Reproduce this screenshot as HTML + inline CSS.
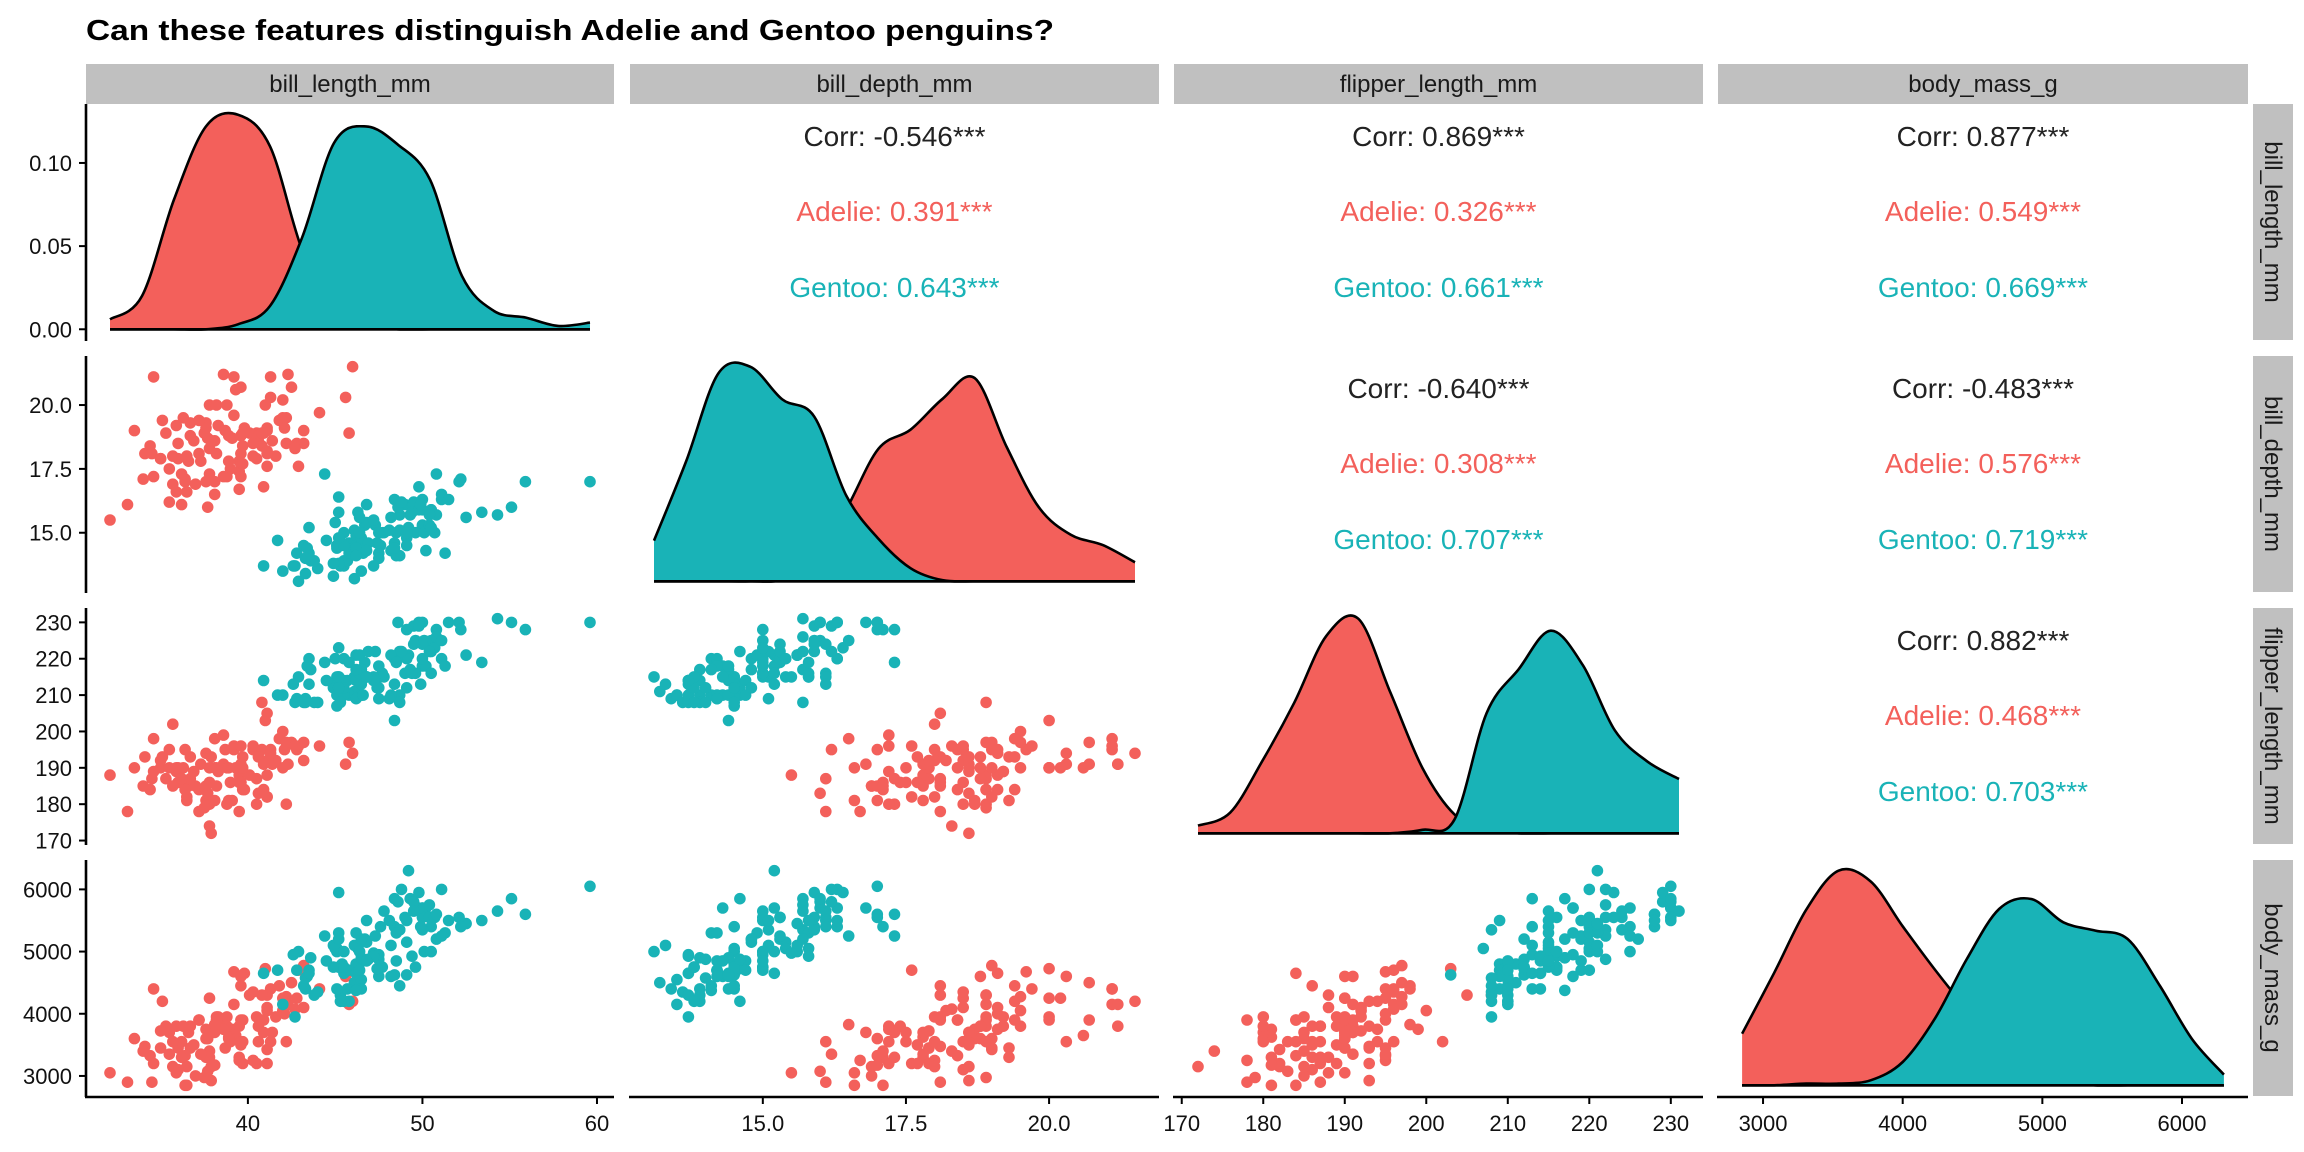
<!DOCTYPE html>
<html><head><meta charset="utf-8"><style>
html,body{margin:0;padding:0;background:#fff;}
svg{display:block;}
.tick{font-family:"Liberation Sans Narrow","Liberation Sans",sans-serif;font-size:22px;fill:#111;}
.strip{font-family:"Liberation Sans Narrow","Liberation Sans",sans-serif;font-size:24px;fill:#1a1a1a;}
.corr{font-family:"Liberation Sans",sans-serif;font-size:28px;}
</style></head><body>
<svg id="chart" width="2304" height="1152" viewBox="0 0 2304 1152" xmlns="http://www.w3.org/2000/svg">
<text x="86" y="40" font-family="Liberation Sans, sans-serif" font-weight="bold" font-size="29" textLength="968" lengthAdjust="spacingAndGlyphs" fill="#000">Can these features distinguish Adelie and Gentoo penguins?</text>
</svg>
<script>
// ---- data ----
const variables = ["bill_length_mm","bill_depth_mm","flipper_length_mm","body_mass_g"];
const adelieBillLength = [39.1,39.5,40.3,36.7,39.3,38.9,39.2,34.1,42,37.8,37.8,41.1,38.6,34.6,36.6,38.7,42.5,34.4,46,37.8,37.7,35.9,38.2,38.8,35.3,40.6,40.5,37.9,40.5,39.5,37.2,39.5,40.9,36.4,39.2,38.8,42.2,37.6,39.8,36.5,40.8,36,44.1,37,39.6,41.1,37.5,36,42.3,39.6,40.1,35,42,34.5,41.4,39,40.6,36.5,37.6,35.7,41.3,37.6,41.1,36.4,41.6,35.5,41.1,35.9,41.8,33.5,39.7,39.6,45.8,35.5,42.8,40.9,37.2,36.2,42.1,34.6,42.9,36.7,35.1,37.3,41.3,36.3,36.9,38.3,38.9,35.7,41.1,34,39.6,36.2,40.8,38.1,40.3,33.1,43.2,35,41,37.7,37.8,37.9,39.7,38.6,38.2,38.1,43.2,38.1,45.6,39.7,42.2,39.6,42.7,32.1];
const adelieBillDepth = [18.7,17.4,18,19.3,20.6,17.8,19.6,18.1,20.2,17.1,17.3,17.6,21.2,21.1,17.8,19,20.7,18.4,21.5,18.3,18.7,19.2,18.1,17.2,18.9,18.6,17.9,18.6,18.9,16.7,18.1,17.8,18.9,17,21.1,20,18.5,19.3,19.1,18,18.4,18.5,19.7,16.9,18.8,19,18.9,17.9,21.2,17.7,18.9,17.9,19.5,18.1,18.6,17.5,18.8,16.6,19.1,16.9,21.1,17,18.2,17.1,18,16.2,19.1,16.6,19.4,19,18.4,17.2,18.9,17.5,18.5,16.8,19.4,16.1,19.1,17.2,17.6,18.8,19.4,17.8,20.3,19.5,18.6,19.2,18.8,18,18.1,17.1,18.1,17.3,18.9,18.6,18.5,16.1,18.5,17.9,20,16,20,18.6,18.9,17.2,20,17,19,16.5,20.3,17.7,19.5,20.7,18.3,15.5];
const adelieFlipper = [181,186,195,193,190,181,195,193,190,186,180,182,191,198,185,195,197,184,194,174,180,189,185,180,187,183,187,172,180,178,178,188,184,195,196,190,180,181,184,182,195,186,196,185,190,182,179,190,191,186,188,190,200,187,191,186,193,181,194,185,195,185,192,184,192,195,188,190,198,190,190,196,197,190,195,191,184,187,195,189,196,187,193,191,194,190,189,189,190,202,205,185,186,187,208,190,196,178,192,192,203,183,190,193,184,199,190,181,197,198,191,193,197,191,196,188];
const adelieMass = [3750,3800,3250,3450,3650,3625,4675,3475,4250,3300,3700,3200,3800,4400,3700,3450,4500,3325,4200,3400,3600,3800,3950,3800,3800,3550,3200,3150,3950,3250,3900,3300,3900,3325,4150,3950,3550,3300,4650,3150,3900,3100,4400,3000,4600,3425,2975,3450,4150,3500,4300,3450,4050,2900,3700,3550,3800,2850,3750,3150,4400,3600,4050,2850,3950,3350,4100,3050,4450,3600,3900,3550,4150,3700,4250,3700,3900,3550,4000,3200,4700,3800,4200,3350,3550,3800,3500,3950,3600,3550,4300,3400,4450,3300,4300,3700,4350,2900,4100,3725,4725,3075,4250,2925,3550,3750,3900,3175,4775,3825,4600,3200,4275,3900,4075,3050];
const gentooBillLength = [46.1,50,48.7,50,47.6,46.5,45.4,46.7,43.3,46.8,40.9,49,45.5,48.4,45.8,49.3,42,49.2,46.2,48.7,50.2,45.1,46.5,46.3,42.9,46.1,47.8,48.2,50,47.3,42.8,45.1,59.6,49.1,48.4,42.6,44.4,44,48.7,42.7,49.6,45.3,49.6,50.5,43.6,45.5,50.5,44.9,45.2,46.6,48.5,45.1,50.1,46.5,45,43.8,45.5,43.2,50.4,45.3,46.2,45.7,54.3,45.8,49.8,46.2,49.5,43.5,50.7,47.7,46.4,48.2,46.5,46.4,48.6,47.5,51.1,45.2,45.2,49.1,52.5,47.4,50,44.9,50.8,43.4,51.3,47.5,52.1,47.5,52.2,45.5,49.5,44.5,50.8,49.4,46.9,48.4,51.1,48.5,55.9,47.2,49.1,46.8,41.7,53.4,43.3,48.1,50.5,49.8,43.5,51.5,46.2,55.1,48.8,47.2,46.8,50.4,45.2,49.9];
const gentooBillDepth = [13.2,16.3,14.1,15.2,14.5,13.5,14.6,15.3,13.4,15.4,13.7,16.1,13.7,14.6,14.6,15.7,13.5,15.2,14.5,15.1,14.3,14.5,14.5,15.8,13.1,15.1,15,14.3,15.3,15.3,14.2,14.5,17,14.8,16.3,13.7,17.3,13.6,15.7,13.7,16,13.7,15,15.9,13.9,13.9,15.9,13.3,15.8,14.2,14.1,14.4,15,14.4,15.4,13.9,15,14.5,15.3,13.8,14.9,13.9,15.7,14.2,16.8,14.4,16.2,14.2,15,15,15.6,15.6,14.8,15,16,14.2,16.3,13.8,16.4,14.5,15.6,14.6,15.9,13.8,17.3,14.4,14.2,14,17,15,17.1,14.5,16.1,14.7,15.7,15.8,14.6,14.4,16.5,15,17,15.5,15,16.1,14.7,15.8,14,15.1,15.2,15.9,15.2,16.3,14.1,16,16.2,13.7,14.3,15.7,14.8,16.1];
const gentooFlipper = [211,230,210,218,215,210,211,219,209,215,214,216,214,213,210,217,210,221,209,222,218,215,213,215,215,215,215,210,220,222,209,207,230,220,220,213,219,208,208,208,225,210,216,222,217,210,225,213,215,210,220,210,225,217,220,208,220,208,224,208,221,214,231,219,230,214,229,220,223,216,221,221,217,216,230,209,220,215,223,212,221,212,224,212,228,218,218,212,230,218,228,212,224,214,226,216,222,203,225,219,228,215,228,215,210,219,208,209,216,229,213,230,217,230,222,214,215,222,212,213];
const gentooMass = [4500,5700,4450,5700,5400,4550,4800,5200,4400,5150,4650,5550,4650,5850,4200,5850,4150,6300,4800,5350,5700,5000,4400,5050,5000,5100,5650,4600,5550,5250,4700,5050,6050,5150,5400,4950,5250,4350,5350,3950,5700,4300,4750,5550,4900,4200,5400,5100,5300,4850,5300,4400,5000,4900,5050,4300,5000,4450,5550,4200,5300,4400,5650,4700,5700,4650,5800,4700,5550,4750,5000,5100,5200,4700,5800,4600,6000,4750,5950,4625,5450,4725,5350,4750,5600,4600,5300,4875,5550,4950,5400,4750,5650,4850,5200,4925,4875,4625,5250,4850,5600,4975,5500,5500,4700,5500,4575,5500,5000,5950,4650,5500,4375,5850,6000,4925,4850,5750,5200,5400];
// densities on an even grid from overall min to max of each variable (16 points)
const adelieDensBillLength = [0.006,0.02,0.078,0.122,0.129,0.11,0.048,0.012,0.002,0,0,0,0,0,0,0];
const gentooDensBillLength = [0,0,0,0,0.003,0.014,0.055,0.112,0.122,0.111,0.09,0.032,0.011,0.007,0.002,0.004];
const adelieDensBillDepth = [0,0,0,0,0.005,0.06,0.21,0.385,0.44,0.53,0.59,0.39,0.215,0.135,0.105,0.055];
const gentooDensBillDepth = [0.118,0.348,0.603,0.623,0.528,0.478,0.248,0.123,0.038,0.003,0,0,0,0,0,0];
const adelieDensFlipper = [0.022,0.06,0.21,0.38,0.575,0.625,0.41,0.19,0.055,0.01,0,0,0,0,0,0];
const gentooDensFlipper = [0,0,0,0,0,0,0,0.01,0.04,0.35,0.478,0.59,0.49,0.3,0.21,0.158];
const adelieDensMass = [0.155,0.338,0.528,0.645,0.613,0.478,0.348,0.228,0.12,0.04,0.01,0,0,0,0,0];
const gentooDensMass = [0,0,0.005,0.005,0.015,0.07,0.2,0.38,0.53,0.56,0.49,0.465,0.44,0.3,0.14,0.032];
const corrOverall = [["-0.546","0.869","0.877"],["-0.640","-0.483"],["0.882"]];
const corrAdelie  = [["0.391","0.326","0.549"],["0.308","0.576"],["0.468"]];
const corrGentoo  = [["0.643","0.661","0.669"],["0.707","0.719"],["0.703"]];
const xTicks = [[40,50,60],[15.0,17.5,20.0],[170,180,190,200,210,220,230],[3000,4000,5000,6000]];
const xTickLabels = [["40","50","60"],["15.0","17.5","20.0"],["170","180","190","200","210","220","230"],["3000","4000","5000","6000"]];
const densTicks = [0,0.05,0.10];
const densTickLabels = ["0.00","0.05","0.10"];

// ---- layout ----
const NS="http://www.w3.org/2000/svg";
const svg=document.getElementById('chart');
const colX=[[86,614],[630,1159],[1174,1703],[1718,2248]];
const rowY=[[104,340],[356,592],[608,844],[860,1096]];
const RED="#F3605B", TEAL="#19B3B7";
const adelie=[adelieBillLength,adelieBillDepth,adelieFlipper,adelieMass];
const gentoo=[gentooBillLength,gentooBillDepth,gentooFlipper,gentooMass];
const adelieDens=[adelieDensBillLength,adelieDensBillDepth,adelieDensFlipper,adelieDensMass];
const gentooDens=[gentooDensBillLength,gentooDensBillDepth,gentooDensFlipper,gentooDensMass];
const dom=[0,1,2,3].map(i=>{const all=adelie[i].concat(gentoo[i]);const mn=Math.min(...all),mx=Math.max(...all);return {mn,mx,lo:mn-(mx-mn)*0.05,hi:mx+(mx-mn)*0.05};});
function sx(i,v){const d=dom[i];return colX[i][0]+(v-d.lo)/(d.hi-d.lo)*(colX[i][1]-colX[i][0]);}
function sy(i,v){const d=dom[i];return rowY[i][1]-(v-d.lo)/(d.hi-d.lo)*(rowY[i][1]-rowY[i][0]);}
function mk(tag,attrs,parent){const e=document.createElementNS(NS,tag);for(const k in attrs)e.setAttribute(k,attrs[k]);(parent||svg).appendChild(e);return e;}

// strips
variables.forEach((v,i)=>{
  const g=mk('g',{});
  
  
  mk('rect',{x:colX[i][0],y:64,width:colX[i][1]-colX[i][0],height:40,fill:'#C0C0C0'},g);
  const t=mk('text',{x:(colX[i][0]+colX[i][1])/2,y:92,'text-anchor':'middle',class:'strip'},g);t.textContent=v;
  const g2=mk('g',{});
  
  
  mk('rect',{x:2253,y:rowY[i][0],width:40,height:rowY[i][1]-rowY[i][0],fill:'#C0C0C0'},g2);
  const cy=(rowY[i][0]+rowY[i][1])/2;
  const t2=mk('text',{x:2265,y:cy,'text-anchor':'middle',class:'strip',transform:'rotate(90 2265 '+cy+')'},g2);t2.textContent=v;
});

// scatter panels
for(let r=0;r<4;r++)for(let c=0;c<r;c++){
  const g=mk('g',{});
  
  
  [[adelie,RED,'adelie'],[gentoo,TEAL,'gentoo']].forEach(([sp,col,nm])=>{
    sp[c].forEach((xv,k)=>{
      const p=mk('circle',{cx:sx(c,xv).toFixed(1),cy:sy(r,sp[r][k]).toFixed(1),r:5.8,fill:col},g);
      
      
    });
  });
}

// density panels
function curvePath(pts){
  let d='M'+pts[0][0].toFixed(1)+','+pts[0][1].toFixed(1);
  for(let i=0;i<pts.length-1;i++){
    const p0=pts[Math.max(0,i-1)],p1=pts[i],p2=pts[i+1],p3=pts[Math.min(pts.length-1,i+2)];
    const c1=[p1[0]+(p2[0]-p0[0])/6,p1[1]+(p2[1]-p0[1])/6];
    const c2=[p2[0]-(p3[0]-p1[0])/6,p2[1]-(p3[1]-p1[1])/6];
    d+=' C'+c1[0].toFixed(1)+','+c1[1].toFixed(1)+' '+c2[0].toFixed(1)+','+c2[1].toFixed(1)+' '+p2[0].toFixed(1)+','+p2[1].toFixed(1);
  }
  return d;
}
function densScale(i){const M=Math.max(...adelieDens[i],...gentooDens[i]);const lo=-0.05*M,hi=1.05*M;return v=>rowY[i][1]-(v-lo)/(hi-lo)*(rowY[i][1]-rowY[i][0]);}
for(let i=0;i<4;i++){
  const g=mk('g',{});
  
  
  const ys=densScale(i);const d=dom[i];const n=adelieDens[i].length;
  const base=ys(0);
  [[adelieDens[i],RED,'adelie'],[gentooDens[i],TEAL,'gentoo']].forEach(([arr,col,nm])=>{
    const pts=arr.map((v,k)=>[sx(i,d.mn+k*(d.mx-d.mn)/(n-1)),Math.min(base,ys(v))]);
    const cp=curvePath(pts);
    const x0=pts[0][0],x1=pts[pts.length-1][0];
    const a=mk('path',{d:cp.replace(/^M/,'M'+x0.toFixed(1)+','+base.toFixed(1)+' L')+' L'+x1.toFixed(1)+','+base.toFixed(1)+' Z',fill:col},g);
    
    
    const l=mk('path',{d:cp,fill:'none',stroke:'#000','stroke-width':2.6},g);
    
    
    mk('line',{x1:x0,x2:x1,y1:base,y2:base,stroke:'#000','stroke-width':2.6},g);
  });
}

// correlation text panels
for(let r=0;r<3;r++)for(let c=r+1;c<4;c++){
  const cx=(colX[c][0]+colX[c][1])/2, top=rowY[r][0];
  const g=mk('g',{});
  
  
  const lines=[['Corr: '+corrOverall[r][c-r-1]+'***','#222',42],['Adelie: '+corrAdelie[r][c-r-1]+'***',RED,117],['Gentoo: '+corrGentoo[r][c-r-1]+'***',TEAL,193]];
  lines.forEach(([txt,col,dy])=>{const t=mk('text',{x:cx,y:top+dy,'text-anchor':'middle',class:'corr',fill:col},g);t.textContent=txt;});
}

// axes
const ax=mk('g',{});


for(let r=0;r<4;r++){
  mk('line',{x1:86,x2:86,y1:rowY[r][0],y2:rowY[r][1]+1,stroke:'#000','stroke-width':2.6},ax);
  let ticks,labels,f;
  if(r===0){ticks=densTicks;labels=densTickLabels;f=densScale(0);} else {ticks=xTicks[r];labels=xTickLabels[r];f=v=>sy(r,v);}
  ticks.forEach((t,k)=>{const y=f(t);mk('line',{x1:79,x2:86,y1:y,y2:y,stroke:'#000','stroke-width':2},ax);
    const tx=mk('text',{x:72,y:y+8,'text-anchor':'end',class:'tick'},ax);tx.textContent=labels[k];});
}
for(let c=0;c<4;c++){
  mk('line',{x1:colX[c][0]-1,x2:colX[c][1],y1:1097,y2:1097,stroke:'#000','stroke-width':2.6},ax);
  xTicks[c].forEach((t,k)=>{const x=sx(c,t);mk('line',{x1:x,x2:x,y1:1097,y2:1104,stroke:'#000','stroke-width':2},ax);
    const tx=mk('text',{x:x,y:1131,'text-anchor':'middle',class:'tick'},ax);tx.textContent=xTickLabels[c][k];});
}
</script>
</body></html>
